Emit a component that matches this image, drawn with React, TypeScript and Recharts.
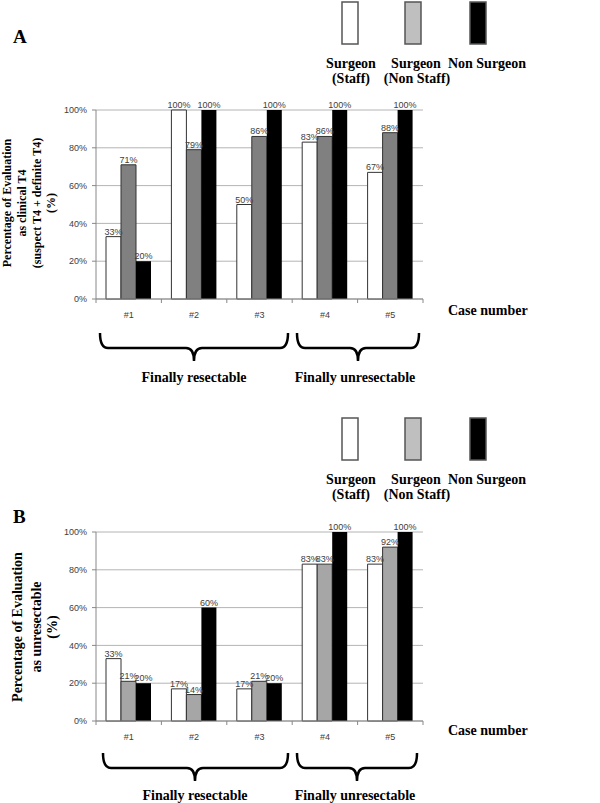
import React from 'react';
import { BarChart, Bar, XAxis, YAxis, CartesianGrid, LabelList } from 'recharts';

const CASES = ['#1', '#2', '#3', '#4', '#5'];
const Y_TICKS = [0, 20, 40, 60, 80, 100];

// panel A: evaluated as clinical T4
const A_STAFF = [33, 100, 50, 83, 67];
const A_NON_STAFF = [71, 79, 86, 86, 88];
const A_NON_SURGEON = [20, 100, 100, 100, 100];

// panel B: evaluated as unresectable
const B_STAFF = [33, 17, 17, 83, 83];
const B_NON_STAFF = [21, 14, 21, 83, 92];
const B_NON_SURGEON = [20, 60, 20, 100, 100];

const CHART_W = 430;
const CHART_H = 230;
const MARGIN = { top: 15, right: 7, left: 56, bottom: 1 };
const Y_AXIS_W = 40;
const BAND = (CHART_W - MARGIN.left - MARGIN.right - Y_AXIS_W) / CASES.length;

const serif = '"Liberation Serif", "Times New Roman", serif';
const sans = '"Liberation Sans", Arial, sans-serif';

const CaseTick = (props: any) => {
    const { x, y, payload, index } = props;
    const left = x - BAND / 2;
    return (
        <g>
            <line x1={left} y1={y} x2={left} y2={y + 4} stroke="#888" />
            {index === CASES.length - 1 && (
                <line x1={x + BAND / 2} y1={y} x2={x + BAND / 2} y2={y + 4} stroke="#888" />
            )}
            <text x={x} y={y + 19} textAnchor="middle" fontFamily={sans} fontSize={9} fill="#404040">
                {payload.value}
            </text>
        </g>
    );
};

const pct = (v: any) => `${v}%`;

function Panel({ staff, nonStaff, nonSurgeon, gray }: { staff: number[]; nonStaff: number[]; nonSurgeon: number[]; gray: string }) {
    const data = CASES.map((c, i) => ({
        name: c,
        staff: staff[i],
        nonStaff: nonStaff[i],
        nonSurgeon: nonSurgeon[i],
    }));
    const label = { position: 'top' as const, offset: 2, fontFamily: sans, fontSize: 9, fill: '#404040', formatter: pct };
    return (
        <BarChart width={CHART_W} height={CHART_H} data={data} margin={MARGIN} barGap={0} barSize={15}>
            <CartesianGrid vertical={false} stroke="#b4b4b4" />
            <XAxis
                dataKey="name"
                tick={<CaseTick />}
                tickSize={0}
                tickMargin={0}
                height={25}
                interval={0}
                axisLine={{ stroke: '#888' }}
            />
            <YAxis
                domain={[0, 100]}
                ticks={Y_TICKS}
                tickFormatter={pct}
                width={Y_AXIS_W}
                tickSize={4}
                tickMargin={5}
                axisLine={{ stroke: '#888' }}
                tickLine={{ stroke: '#888' }}
                tick={{ fontFamily: sans, fontSize: 9, fill: '#404040' }}
            />
            <Bar dataKey="staff" fill="#ffffff" stroke="#333" strokeWidth={1} isAnimationActive={false}>
                <LabelList dataKey="staff" {...label} />
            </Bar>
            <Bar dataKey="nonStaff" fill={gray} stroke="#333" strokeWidth={1} isAnimationActive={false}>
                <LabelList dataKey="nonStaff" {...label} />
            </Bar>
            <Bar dataKey="nonSurgeon" fill="#000000" isAnimationActive={false}>
                <LabelList dataKey="nonSurgeon" {...label} />
            </Bar>
        </BarChart>
    );
}

function LegendBlock({ top }: { top: number }) {
    const t = { fontFamily: serif, fontWeight: 700, fontSize: 14, fill: '#000', textAnchor: 'middle' as const };
    return (
        <g>
            <rect x={342} y={top} width={16} height={42} fill="#fff" stroke="#555" strokeWidth={1.5} />
            <rect x={405} y={top} width={16} height={42} fill="#bfbfbf" stroke="#555" strokeWidth={1.5} />
            <rect x={470} y={top} width={16} height={42} fill="#000" stroke="#555" strokeWidth={1.5} />
            <text x={351} y={top + 66} {...t}>Surgeon</text>
            <text x={351} y={top + 81} {...t}>(Staff)</text>
            <text x={416} y={top + 66} {...t}>Surgeon</text>
            <text x={417} y={top + 81} {...t}>(Non Staff)</text>
            <text x={487} y={top + 66} {...t}>Non Surgeon</text>
        </g>
    );
}

function Brace({ x1, x2, mid, top }: { x1: number; x2: number; mid: number; top: number }) {
    const h = top + 15;
    const tip = top + 28;
    const d = `M${x1},${top} Q${x1},${h} ${x1 + 8},${h} L${mid - 8},${h} Q${mid},${h} ${mid},${tip} Q${mid},${h} ${mid + 8},${h} L${x2 - 8},${h} Q${x2},${h} ${x2},${top}`;
    return <path d={d} fill="none" stroke="#000" strokeWidth={2.5} />;
}

function Annotations() {
    const bold = { fontFamily: serif, fontWeight: 700, fill: '#000' };
    return (
        <svg width={600} height={803} style={{ position: 'absolute', left: 0, top: 0 }}>
            <text x={13} y={43} {...bold} fontSize={19}>A</text>
            <LegendBlock top={2} />
            <g transform="translate(0,203) rotate(-90)" {...bold} fontSize={12} textAnchor="middle">
                <text x={0} y={11}>Percentage of Evaluation</text>
                <text x={0} y={26}>as clinical T4</text>
                <text x={0} y={40.5}>(suspect T4 + definite T4)</text>
                <text x={0} y={55}>(%)</text>
            </g>
            <text x={448} y={315} {...bold} fontSize={14}>Case number</text>
            <Brace x1={100} x2={288} mid={194} top={333} />
            <Brace x1={297} x2={419} mid={358} top={333} />
            <text x={194} y={382} {...bold} fontSize={14} textAnchor="middle">Finally resectable</text>
            <text x={355} y={382} {...bold} fontSize={14} textAnchor="middle">Finally unresectable</text>

            <LegendBlock top={418} />
            <text x={13} y={523} {...bold} fontSize={19}>B</text>
            <g transform="translate(0,627) rotate(-90)" {...bold} fontSize={14} textAnchor="middle">
                <text x={0} y={21.5}>Percentage of Evaluation</text>
                <text x={0} y={41}>as unresectable</text>
                <text x={0} y={57}>(%)</text>
            </g>
            <text x={448} y={735} {...bold} fontSize={14}>Case number</text>
            <Brace x1={103} x2={288} mid={195} top={753} />
            <Brace x1={297} x2={417} mid={357} top={753} />
            <text x={195} y={800} {...bold} fontSize={14} textAnchor="middle">Finally resectable</text>
            <text x={355} y={800} {...bold} fontSize={14} textAnchor="middle">Finally unresectable</text>
        </svg>
    );
}

export default function App() {
    return (
        <div style={{ position: 'absolute', left: 0, top: 0, width: 600, height: 803, background: '#fff', overflow: 'hidden' }}>
            <Annotations />
            <div style={{ position: 'absolute', left: 0, top: 95 }}>
                <Panel staff={A_STAFF} nonStaff={A_NON_STAFF} nonSurgeon={A_NON_SURGEON} gray="#808080" />
            </div>
            <div style={{ position: 'absolute', left: 0, top: 517 }}>
                <Panel staff={B_STAFF} nonStaff={B_NON_STAFF} nonSurgeon={B_NON_SURGEON} gray="#a6a6a6" />
            </div>
        </div>
    );
}
